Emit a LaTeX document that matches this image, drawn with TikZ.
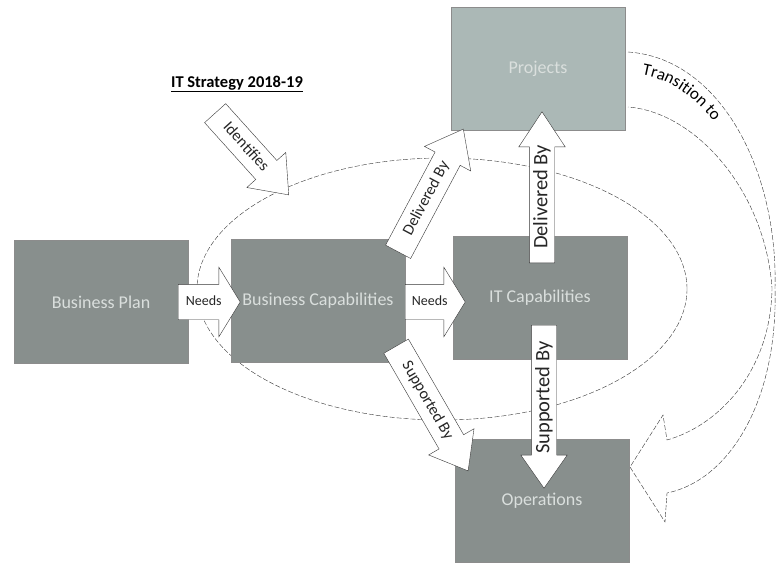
\documentclass[tikz,border=0pt]{standalone}
\usepackage{fontspec}
\setmainfont{Carlito}
\usepackage{tikz}
\usetikzlibrary{shapes.geometric, shapes.arrows, positioning, calc, decorations.text}
\definecolor{boxgray}{RGB}{136,143,141}
\definecolor{projgray}{RGB}{171,184,182}
\definecolor{boxtext}{RGB}{218,223,221}
\definecolor{lineink}{RGB}{55,55,55}
\tikzstyle{capbox} = [rectangle, draw=black!45, fill=boxgray, text=boxtext, minimum width=174, minimum height=123, font=\fontsize{18}{21}\selectfont]
\tikzstyle{projbox} = [capbox, fill=projgray]
\tikzstyle{blockarrow} = [single arrow, draw=lineink, fill=white, inner xsep=2pt, single arrow head indent=0pt, anchor=tail, text=black!85]
\tikzstyle{needsarrow} = [blockarrow, text height=10, text depth=3, inner ysep=11, single arrow head extend=17, single arrow tip angle=117, font=\fontsize{14}{16}\selectfont]
\tikzstyle{diagarrow} = [blockarrow, text height=12, text depth=3.5, inner ysep=6.25, single arrow head extend=12, single arrow tip angle=76, font=\fontsize{16}{18}\selectfont]
\tikzstyle{uparrow} = [blockarrow, text height=15, text depth=4.5, inner ysep=2.75, single arrow head extend=10.5, rotate=90, font=\fontsize{20.5}{23}\selectfont]
\tikzstyle{outline} = [draw=lineink, thin, dash pattern=on 5pt off 2pt]

\begin{document}
\begin{tikzpicture}[x=1pt, y=-1pt]
    \path[use as bounding box, fill=white] (0,0) rectangle (778,565);

    % Strategy ellipse
    \node (strategy) [ellipse, outline, minimum width=490, minimum height=262] at (442,289) {};

    % Transition to (curved block arrow)
    \coordinate (tr outer) at (628,52);
    \coordinate (tr inner) at (628,107);
    \coordinate (tr turn) at (775,288);
    \coordinate (tr low) at (667,493);
    \coordinate (tr up) at (667,440);
    \coordinate (tr tip) at (630,467);
    \path [outline, fill=white] (tr outer) .. controls (720,58) and (778,170) .. (tr turn)
        .. controls (778,400) and (730,480) .. (tr low) -- (665,522) -- (tr tip) -- (663,415) -- (tr up)
        .. controls (720,425) and (771,370) .. (772,288)
        .. controls (765,190) and (695,112) .. (tr inner);

    % Boxes
    \node (plan) [capbox] at (101,302) {Business Plan};
    \node (buscap) [capbox] at (318,301) {Business Capabilities};
    \node (itcap) [capbox] at (540,298) {IT Capabilities};
    \node (projects) [projbox] at (538,69) {Projects};
    \node (operations) [capbox] at (542,501) {Operations};

    % Block arrows
    \node (needs1) [needsarrow, minimum height=62] at (178,302) {Needs};
    \node (needs2) [needsarrow, minimum height=60] at (405,302) {Needs};
    \node (identifies) [diagarrow, minimum height=110, rotate=-48] at (215,113) {Identifies};
    \node (delivdiag) [diagarrow, minimum height=139, rotate=62] at (398,252) {Delivered By};
    \node (suppdiag) [diagarrow, minimum height=144, rotate=-60] at (396,346) {Supported By};
    \node (delivup) [uparrow, minimum height=151, single arrow tip angle=67] at (542,263) {Delivered By};
    \node (suppdown) [uparrow, minimum height=163, single arrow tip angle=70, shape border rotate=180] at (544,325) {Supported By};

    % Labels
    \node (title) at (237,84) {\fontsize{16.5}{19}\selectfont\bfseries\underline{IT Strategy 2018-19}};
    \path [decorate, decoration={text along path, text={|\fontsize{17}{20}\selectfont|Transition to}, text align={left indent=6pt}}]
        (636,74) .. controls (712,82) and (762,178) .. (762,290);
\end{tikzpicture}
\end{document}
